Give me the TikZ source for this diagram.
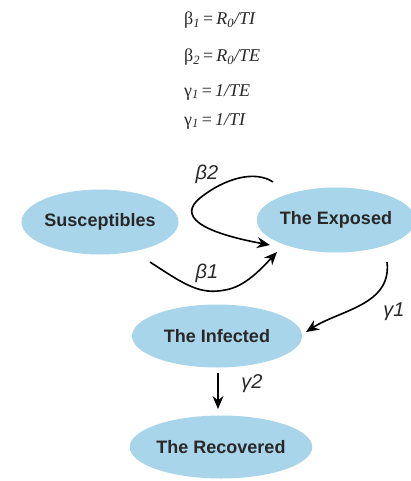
\documentclass[tikz,border=0pt]{standalone}
\usepackage{fontspec}
\setmainfont{Liberation Serif}
\setsansfont{Liberation Sans}
\usetikzlibrary{arrows.meta,shapes.geometric}
\definecolor{cellblue}{RGB}{168,213,234}
\definecolor{txt}{RGB}{40,40,40}
\tikzset{
  state/.style={ellipse, fill=cellblue, draw=none, inner sep=0pt, font=\sffamily\bfseries\fontsize{18}{21}\selectfont, text=txt},
  flow/.style={line width=1.6pt, -{Stealth[length=13pt,width=11pt]}},
  rate/.style={font=\sffamily\itshape\fontsize{20}{23}\selectfont, text=txt, inner sep=0pt},
  eq/.style={font=\fontsize{18}{20}\selectfont, anchor=west, inner sep=0pt, text=txt}
}
\begin{document}
\begin{tikzpicture}[x=1pt,y=-1pt]
\useasboundingbox (0,0) rectangle (410,481);
% equations
\node[eq] (e1) at (184,20) {β\textsubscript{\textit{1}}\,=\,\textit{R\textsubscript{0}/TI}};
\node[eq] (e2) at (184,57) {β\textsubscript{\textit{2}}\,=\,\textit{R\textsubscript{0}/TE}};
\node[eq] (e3) at (184,92) {γ\textsubscript{\textit{1}}\,=\,\textit{1/TE}};
\node[eq] (e4) at (184,121) {γ\textsubscript{\textit{1}}\,=\,\textit{1/TI}};
% states
\node[state, minimum width=150pt, minimum height=65pt] (S) at (100,222) {Susceptibles};
\node[state, minimum width=152pt, minimum height=65pt] (E) at (336,220) {The Exposed};
\node[state, minimum width=170pt, minimum height=63pt] (I) at (217,336) {The Infected};
\node[state, minimum width=152pt, minimum height=63pt] (R) at (221,447) {The Recovered};
% connector ends
\coordinate (b1s) at (150,262);
\coordinate (b1e) at (277,252);
\coordinate (b2s) at (273,182);
\coordinate (b2e) at (270,245);
\coordinate (g1s) at (387,262);
\coordinate (g1e) at (306,332);
\coordinate (g2s) at (218,373);
\coordinate (g2e) at (218,409);
% arrows
\draw[flow] (b1s) .. controls (185,285) and (200,295) .. (225,290) .. controls (245,287) and (262,268) .. (b1e);
\draw[flow] (b2s) .. controls (255,170) and (225,178) .. (200,198) .. controls (178,216) and (200,232) .. (b2e);
\draw[flow] (g1s) .. controls (392,305) and (340,310) .. (g1e);
\draw[flow] (g2s) -- (g2e);
% rate labels
\node[rate] (lb2) at (207,174) {β2};
\node[rate] (lb1) at (207,273) {β1};
\node[rate] (lg1) at (394,312) {γ1};
\node[rate] (lg2) at (252,384) {γ2};
\end{tikzpicture}
\end{document}
